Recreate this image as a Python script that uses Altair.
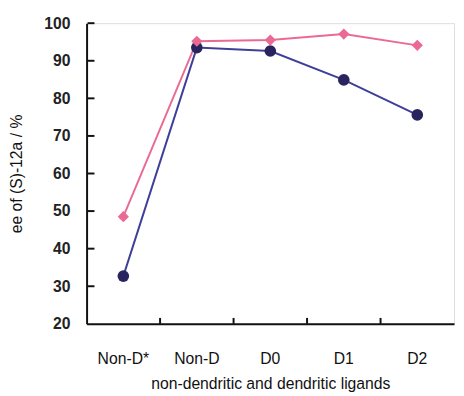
import altair as alt
import pandas as pd

categories = ["Non-D*", "Non-D", "D0", "D1", "D2"]
pink_values = [48.5, 95.2, 95.5, 97.1, 94.1]
blue_values = [32.7, 93.5, 92.6, 84.9, 75.6]
y_ticks = [20, 30, 40, 50, 60, 70, 80, 90, 100]
inner_y_ticks = [30, 40, 50, 60, 70, 80, 90, 100]
inner_x_ticks = ["Non-D", "D0", "D1", "D2"]

PINK = "#ea6a93"
BLUE_LINE = "#3d3f98"
BLUE_MARK = "#29245e"
FONT = "Liberation Sans"

W, H = 374, 306

df = pd.DataFrame({
    "cat": categories * 2,
    "val": blue_values + pink_values,
    "series": ["blue"] * 5 + ["pink"] * 5,
})
blue_df = df[df.series == "blue"]
pink_df = df[df.series == "pink"]

xscale = alt.Scale(domain=categories, paddingInner=0, paddingOuter=0)
yscale = alt.Scale(domain=[20, 100], nice=False, zero=False)

xaxis = alt.Axis(title="non-dendritic and dendritic ligands", labelAngle=0,
                 ticks=False, labelPadding=27, titlePadding=10,
                 labelFont=FONT, labelFontSize=16, labelColor="#111",
                 titleFont=FONT, titleFontSize=16, titleFontWeight="normal",
                 titleColor="#111", domainColor="#111", domainWidth=2,
                 grid=False)
yaxis = alt.Axis(title="ee of (S)-12a / %", values=y_ticks, ticks=False,
                 labelOverlap=False, labelPadding=17, titlePadding=20,
                 labelFont=FONT, labelFontSize=16, labelFontWeight="bold",
                 labelColor="#222", titleFont=FONT, titleFontSize=16,
                 titleFontWeight="normal", titleColor="#111",
                 domainColor="#111", domainWidth=2, grid=False)

xenc = alt.X("cat:N", scale=xscale, sort=categories, axis=xaxis)
yenc = alt.Y("val:Q", scale=yscale, axis=yaxis)

blue_line = alt.Chart(blue_df).mark_line(color=BLUE_LINE, strokeWidth=2).encode(x=xenc, y=yenc)
blue_pts = alt.Chart(blue_df).mark_point(shape="circle", filled=True, size=140,
                                         color=BLUE_MARK, opacity=1).encode(x=xenc, y=yenc)
pink_line = alt.Chart(pink_df).mark_line(color=PINK, strokeWidth=2).encode(x=xenc, y=yenc)
pink_pts = alt.Chart(pink_df).mark_point(shape="diamond", filled=True, size=130,
                                         color=PINK, opacity=1).encode(x=xenc, y=yenc)

ytick_df = pd.DataFrame({"val": inner_y_ticks})
ytick_marks = alt.Chart(ytick_df).mark_rule(color="#111", strokeWidth=2).encode(
    y=yenc, x=alt.value(1), x2=alt.value(8))

xtick_df = pd.DataFrame({"cat": inner_x_ticks})
xtick_marks = alt.Chart(xtick_df).mark_rule(color="#111", strokeWidth=2).encode(
    x=alt.X("cat:N", scale=xscale, sort=categories, axis=xaxis, bandPosition=0),
    y=alt.value(H - 6), y2=alt.value(H))

chart = alt.layer(ytick_marks, xtick_marks, blue_line, pink_line, blue_pts, pink_pts).properties(
    width=W, height=H,
    autosize=alt.AutoSizeParams(type="none"),
    padding={"left": 80, "top": 12, "right": 2, "bottom": 70},
).configure_view(stroke=None).configure(background="white")

chart.save("out.html", embed_options={"renderer": "svg", "actions": False})
